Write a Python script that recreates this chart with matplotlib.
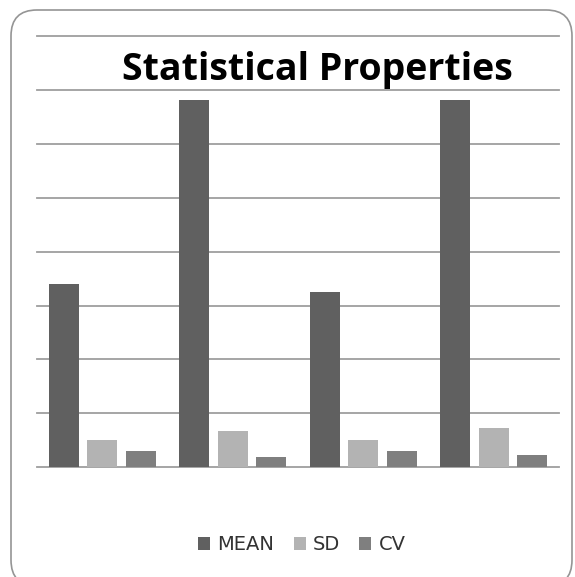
import numpy as np
import matplotlib.pyplot as plt
from matplotlib.patches import FancyBboxPatch

# Statistical properties per sample group (gridline units)
groups = ["G1", "G2", "G3", "G4"]
mean_vals = [3.40, 6.81, 3.26, 6.81]
sd_vals = [0.50, 0.68, 0.50, 0.72]
cv_vals = [0.30, 0.19, 0.30, 0.22]

series = ["MEAN", "SD", "CV"]
colors = ["#606060", "#b3b3b3", "#7f7f7f"]

fig = plt.figure(figsize=(5.75, 5.77), dpi=100)

# rounded chart frame, bottom edge runs just past the canvas
frame = FancyBboxPatch((11 / 575, 1 - 586 / 577), 561 / 575, 576 / 577,
                       boxstyle="round,pad=0,rounding_size=0.045",
                       transform=fig.transFigure, facecolor="none",
                       edgecolor="#959595", linewidth=1.2, zorder=0)
fig.patches.append(frame)

ax = fig.add_axes([37 / 575, 1 - 467.3 / 577, 522 / 575, 431.3 / 577])
ax.set_facecolor("none")
ax.set_zorder(2)

x = np.arange(len(groups))
width = 0.23
offset = 0.295
for i, (vals, name, col) in enumerate(zip([mean_vals, sd_vals, cv_vals], series, colors)):
    ax.bar(x + (i - 1) * offset, vals, width, color=col, label=name, zorder=3)

ax.set_xlim(-0.5, len(groups) - 0.5)
ax.set_ylim(0, 8)
ax.set_yticks(np.arange(0, 9, 1))
ax.grid(axis="y", color="#9e9e9e", linewidth=1.3)
for gl in ax.get_ygridlines():
    gl.set_clip_on(False)
ax.set_axisbelow(True)
ax.tick_params(left=False, bottom=False, labelleft=False, labelbottom=False)
for s in ax.spines.values():
    s.set_visible(False)

fig.text(0.552, 1 - 80 / 577, "Statistical Properties", ha="center", va="baseline",
         fontsize=27, fontweight="bold", family="Open Sans", zorder=5)

fig.legend(loc="center", bbox_to_anchor=(0.525, 1 - 545 / 577), ncol=3,
           frameon=False, fontsize=14, handlelength=0.62, handleheight=0.62,
           handletextpad=0.36, columnspacing=1.0, labelcolor="#333333")

fig.savefig("out.png", dpi=100)
